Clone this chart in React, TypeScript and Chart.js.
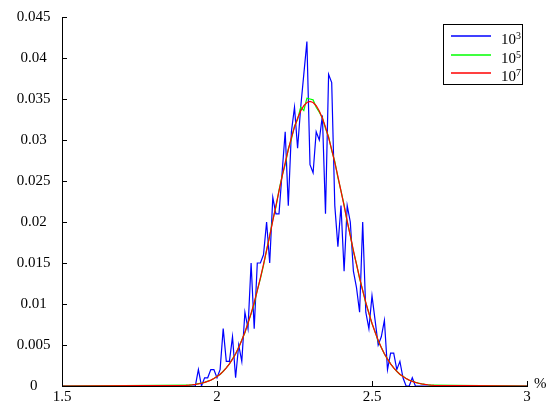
import React, { useEffect, useRef } from "react";
import { Chart, registerables } from "chart.js";

Chart.register(...registerables);

// Histogram bins (bin width 0.01 starting at 1.90)
const BIN_START = 1.9;
const BIN_WIDTH = 0.01;
const X_MIN = 1.5;
const X_MAX = 3;
const Y_MIN = 0;
const Y_MAX = 0.045;
const Y_STEP = 0.005;
const X_TICKS = [1.5, 2, 2.5, 3];
const X_UNIT = "%";

// 10^3 samples
const blue1e3 = [
  0, 0, 0, 0, 0.002, 0, 0.001, 0.001, 0.002, 0.002,
  0.001, 0.002, 0.007, 0.003, 0.003, 0.006, 0.001, 0.005, 0.003, 0.009,
  0.007, 0.015, 0.007, 0.015, 0.015, 0.016, 0.02, 0.015, 0.023, 0.021,
  0.021, 0.026, 0.031, 0.022, 0.031, 0.034, 0.029, 0.034, 0.038, 0.042,
  0.027, 0.026, 0.031, 0.03, 0.033, 0.021, 0.038, 0.037, 0.022, 0.017,
  0.022, 0.014, 0.022, 0.02, 0.014, 0.012, 0.009, 0.02, 0.009, 0.007,
  0.011, 0.008, 0.005, 0.006, 0.008, 0.002, 0.004, 0.004, 0.002, 0.003,
  0.001, 0, 0, 0.001, 0, 0, 0, 0, 0, 0, 0,
];

// 10^5 samples
const green1e5 = [
  0.0001, 0.0001, 0.00015, 0.0002, 0.0003, 0.00035, 0.00045, 0.0006, 0.0007, 0.0009,
  0.0012, 0.0014, 0.0018, 0.0022, 0.0027, 0.0033, 0.0039, 0.0047, 0.0056, 0.0065,
  0.0077, 0.0088, 0.01, 0.0117, 0.0131, 0.0147, 0.0166, 0.0183, 0.0203, 0.0218,
  0.0239, 0.0256, 0.027, 0.0289, 0.0301, 0.0317, 0.0325, 0.034, 0.0336, 0.0351,
  0.035, 0.0349, 0.034, 0.0334, 0.0327, 0.0314, 0.0304, 0.0287, 0.0274, 0.0254,
  0.0238, 0.0221, 0.02, 0.0184, 0.0164, 0.0149, 0.0131, 0.0117, 0.0101, 0.0089,
  0.0076, 0.0066, 0.0055, 0.0047, 0.0039, 0.0033, 0.0027, 0.0022, 0.0018, 0.0014,
  0.0012, 0.0009, 0.0007, 0.0006, 0.00045, 0.00035, 0.00025, 0.0002, 0.00015, 0.0001, 0.0001,
];

// 10^7 samples
const red1e7 = [
  0.00008, 0.00011, 0.00015, 0.0002, 0.00026, 0.00034, 0.00044, 0.00057, 0.00072, 0.00092,
  0.00115, 0.00144, 0.00179, 0.0022, 0.00269, 0.00327, 0.00393, 0.0047, 0.00557, 0.00655,
  0.00765, 0.00886, 0.01019, 0.01164, 0.01318, 0.01482, 0.01654, 0.01832, 0.02013, 0.02196,
  0.02378, 0.02555, 0.02724, 0.02883, 0.03029, 0.03157, 0.03266, 0.03354, 0.03418, 0.03457,
  0.0347, 0.03457, 0.03418, 0.03354, 0.03266, 0.03157, 0.03029, 0.02883, 0.02724, 0.02555,
  0.02378, 0.02196, 0.02013, 0.01832, 0.01654, 0.01482, 0.01318, 0.01164, 0.01019, 0.00886,
  0.00765, 0.00655, 0.00557, 0.0047, 0.00393, 0.00327, 0.00269, 0.0022, 0.00179, 0.00144,
  0.00115, 0.00092, 0.00072, 0.00057, 0.00044, 0.00034, 0.00026, 0.0002, 0.00015, 0.00011, 0.00008,
];

const legendBases = ["10", "10", "10"];
const legendExps = ["3", "5", "7"];
const seriesColors = ["#0000ff", "#00ff00", "#ff0000"];

const FONT = '"Liberation Serif", "Times New Roman", serif';

function toPoints(vals: number[]) {
  const pts: { x: number; y: number }[] = [{ x: X_MIN, y: 0 }];
  vals.forEach((v, i) => pts.push({ x: +(BIN_START + i * BIN_WIDTH).toFixed(2), y: v }));
  pts.push({ x: X_MAX, y: 0 });
  return pts;
}

const matlabPlugin = {
  id: "matlabDecor",
  afterDraw(chart: any) {
    const { ctx, chartArea: ca, scales } = chart;
    const x = scales.x;
    const y = scales.y;
    ctx.save();
    // darken the axis line where the series lie on zero
    ctx.strokeStyle = "rgba(0,0,0,0.45)";
    ctx.lineWidth = 1;
    ctx.beginPath();
    const by0 = Math.round(ca.bottom) + 0.5;
    ctx.moveTo(ca.left, by0);
    ctx.lineTo(ca.right, by0);
    ctx.stroke();

    // inward tick marks
    ctx.strokeStyle = "#000";
    ctx.lineWidth = 1;
    ctx.beginPath();
    y.ticks.forEach((t: any) => {
      const py = Math.round(y.getPixelForValue(t.value)) + 0.5;
      ctx.moveTo(ca.left, py);
      ctx.lineTo(ca.left + 5, py);
    });
    x.ticks.forEach((t: any) => {
      const px = Math.round(x.getPixelForValue(t.value)) + 0.5;
      ctx.moveTo(px, ca.bottom);
      ctx.lineTo(px, ca.bottom - 5);
    });
    ctx.stroke();

    // unit label
    ctx.fillStyle = "#000";
    ctx.font = `15px ${FONT}`;
    ctx.textAlign = "left";
    ctx.textBaseline = "middle";
    ctx.fillText(X_UNIT, ca.right + 7, ca.bottom - 2);

    // legend
    const bx = ca.right - 84;
    const by = ca.top + 7;
    const bw = 79;
    const bh = 60;
    ctx.fillStyle = "#fff";
    ctx.fillRect(bx, by, bw, bh);
    ctx.strokeStyle = "#000";
    ctx.strokeRect(bx + 0.5, by + 0.5, bw, bh);
    for (let i = 0; i < legendBases.length; i++) {
      const ly = Math.round(by + 12 + i * 18.5);
      ctx.strokeStyle = seriesColors[i];
      ctx.lineWidth = 1.5;
      ctx.beginPath();
      ctx.moveTo(bx + 8, ly);
      ctx.lineTo(bx + 48, ly);
      ctx.stroke();
      ctx.fillStyle = "#000";
      ctx.textBaseline = "alphabetic";
      ctx.font = `15px ${FONT}`;
      const tx = bx + 58;
      const base = ly + 7.5;
      ctx.fillText(legendBases[i], tx, base);
      const w = ctx.measureText(legendBases[i]).width;
      ctx.font = `10px ${FONT}`;
      ctx.fillText(legendExps[i], tx + w, base - 5);
    }
    ctx.restore();
  },
};

export default function App() {
  const ref = useRef<HTMLCanvasElement>(null);
  useEffect(() => {
    if (!ref.current) return;
    const tickFont = { family: FONT, size: 15 };
    const chart = new Chart(ref.current, {
      type: "line",
      data: {
        datasets: [
          { label: "10^7", data: toPoints(red1e7), borderColor: seriesColors[2], order: 0 },
          { label: "10^5", data: toPoints(green1e5), borderColor: seriesColors[1], order: 1 },
          { label: "10^3", data: toPoints(blue1e3), borderColor: seriesColors[0], order: 2 },
        ].map((d) => ({ ...d, borderWidth: 1.2, pointRadius: 0, pointHoverRadius: 0, tension: 0, fill: false })),
      },
      options: {
        responsive: false,
        animation: false,
        devicePixelRatio: 1,
        layout: { autoPadding: false, padding: { top: 17, right: 26, left: 0, bottom: 0 } },
        plugins: { legend: { display: false }, tooltip: { enabled: false } },
        scales: {
          x: {
            type: "linear",
            min: X_MIN,
            max: X_MAX,
            afterBuildTicks: (s: any) => {
              s.ticks = X_TICKS.map((v) => ({ value: v }));
            },
            ticks: {
              font: tickFont,
              color: "#000",
              padding: 0,
              maxRotation: 0,
              autoSkip: false,
              callback: (v: any) => String(v),
            },
            grid: { display: false, drawTicks: true, tickLength: 2.5 },
            border: { display: true, color: "#000", width: 1 },
            afterFit: (s: any) => {
              s.height = 18;
            },
          },
          y: {
            type: "linear",
            min: Y_MIN,
            max: Y_MAX,
            ticks: {
              stepSize: Y_STEP,
              font: tickFont,
              color: "#000",
              padding: 0,
              crossAlign: "center",
              callback: (v: any) => String(parseFloat(Number(v).toFixed(4))),
            },
            grid: { display: false, drawTicks: true, tickLength: 11.5 },
            border: { display: true, color: "#000", width: 1 },
            afterFit: (s: any) => {
              s.width = 62;
            },
          },
        },
      },
      plugins: [matlabPlugin],
    } as any);
    return () => chart.destroy();
  }, []);
  return (
    <div style={{ position: "fixed", left: 0, top: 0, width: 553, height: 404, background: "#fff" }}>
      <canvas ref={ref} width={553} height={404} style={{ display: "block" }} />
    </div>
  );
}
